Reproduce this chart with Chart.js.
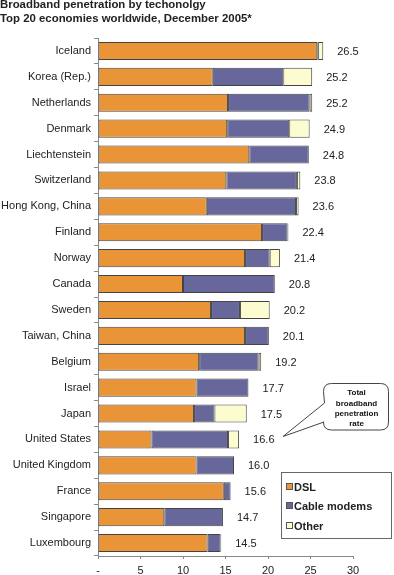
<!DOCTYPE html>
<html>
<head>
<meta charset="utf-8">
<script src="https://cdn.jsdelivr.net/npm/chart.js@4.4.1/dist/chart.umd.min.js"></script>
<style>
  html, body { margin: 0; padding: 0; background: #fff; }
  #wrap { position: relative; width: 394px; height: 575px; }
  .title { position: absolute; left: 0; font: bold 11.4px "Liberation Sans", Arial, sans-serif; color: #222; white-space: nowrap; }
</style>
</head>
<body>
<div id="wrap">
  <div class="title" style="top:-2px">Broadband penetration by techonolgy</div>
  <div class="title" style="top:12px">Top 20 economies worldwide, December 2005*</div>
  <canvas id="c" width="394" height="575"></canvas>
</div>
<script>
const categories = ['Iceland','Korea (Rep.)','Netherlands','Denmark','Liechtenstein','Switzerland','Hong Kong, China','Finland','Norway','Canada','Sweden','Taiwan, China','Belgium','Israel','Japan','United States','United Kingdom','France','Singapore','Luxembourg'];
const dsl    = [25.8,13.5,15.3,15.2,17.8,15.1,12.8,19.3,17.3,10.0,13.3,17.3,11.9,11.6,11.3,6.3,11.6,14.8,7.8,12.9];
const cable  = [0.1,8.3,9.6,7.3,7.0,8.3,10.5,3.0,2.9,10.8,3.4,2.8,7.0,6.1,2.4,9.0,4.4,0.8,6.9,1.5];
const other  = [0.6,3.4,0.3,2.4,0,0.4,0.3,0.1,1.2,0,3.5,0,0.3,0,3.8,1.3,0,0,0,0.1];
const totals = [26.5,25.2,25.2,24.9,24.8,23.8,23.6,22.4,21.4,20.8,20.2,20.1,19.2,17.7,17.5,16.6,16.0,15.6,14.7,14.5];
const xTicks = [0,5,10,15,20,25,30];
const seriesNames = ['DSL','Cable modems','Other'];
const seriesColors = ['#EA9438','#67679C','#FCFCD0'];
const calloutLines = ['Total','broadband','penetration','rate'];

const FONT = '"Liberation Sans", Arial, sans-serif';

const extras = {
  id: 'extras',
  afterDatasetsDraw(chart) {
    const ctx = chart.ctx;
    const xs = chart.scales.x, ys = chart.scales.y;
    ctx.save();
    // value labels
    ctx.font = '11px ' + FONT;
    ctx.fillStyle = '#222';
    ctx.textAlign = 'left';
    ctx.textBaseline = 'middle';
    totals.forEach((t, i) => {
      ctx.fillText(t.toFixed(1), xs.getPixelForValue(t) + 14, ys.getPixelForValue(i) + 1);
    });
    // legend box
    ctx.strokeStyle = '#666';
    ctx.lineWidth = 1;
    ctx.fillStyle = '#fff';
    ctx.fillRect(281.5, 472.5, 110, 66);
    ctx.strokeRect(281.5, 472.5, 110, 66);
    const ly = [487, 506, 526];
    ctx.font = 'bold 11px ' + FONT;
    seriesNames.forEach((n, k) => {
      ctx.fillStyle = seriesColors[k];
      ctx.fillRect(287, ly[k] - 3, 6, 6);
      ctx.strokeStyle = '#555';
      ctx.strokeRect(286.5, ly[k] - 3.5, 6, 6);
      ctx.fillStyle = '#222';
      ctx.fillText(n, 294, ly[k] + 0.5);
    });
    // callout bubble
    const bx = 323.5, by = 383.5, bw = 65, bh = 46.5, r = 8;
    ctx.beginPath();
    ctx.moveTo(bx + r, by);
    ctx.lineTo(bx + bw - r, by);
    ctx.quadraticCurveTo(bx + bw, by, bx + bw, by + r);
    ctx.lineTo(bx + bw, by + bh - r);
    ctx.quadraticCurveTo(bx + bw, by + bh, bx + bw - r, by + bh);
    ctx.lineTo(bx + r, by + bh);
    ctx.quadraticCurveTo(bx, by + bh, bx, by + bh - r);
    ctx.lineTo(bx + 0.5, 422);
    ctx.lineTo(283, 436.5);
    ctx.lineTo(bx + 1, 403);
    ctx.lineTo(bx, by + r);
    ctx.quadraticCurveTo(bx, by, bx + r, by);
    ctx.closePath();
    ctx.fillStyle = '#fff';
    ctx.fill();
    ctx.strokeStyle = '#444';
    ctx.stroke();
    ctx.fillStyle = '#111';
    ctx.font = 'bold 8px ' + FONT;
    ctx.textAlign = 'center';
    const cy = [392.5, 403.5, 413.5, 424];
    calloutLines.forEach((s, k) => ctx.fillText(s, 356.5, cy[k]));
    ctx.restore();
  }
};

new Chart(document.getElementById('c'), {
  type: 'bar',
  data: {
    labels: categories,
    datasets: [dsl, cable, other].map((d, k) => ({
      label: seriesNames[k],
      data: d,
      backgroundColor: seriesColors[k],
      borderColor: '#444',
      borderWidth: 1,
      borderSkipped: false,
      barPercentage: 0.7,
      categoryPercentage: 1.0
    }))
  },
  options: {
    indexAxis: 'y',
    responsive: false,
    animation: false,
    layout: { padding: { top: 38, right: 41, left: 0, bottom: 0 } },
    plugins: { legend: { display: false }, tooltip: { enabled: false } },
    scales: {
      x: {
        stacked: true,
        min: 0, max: 30,
        afterBuildTicks(scale) { scale.ticks = xTicks.map(v => ({ value: v })); },
        afterFit(scale) { scale.height = 19; },
        ticks: {
          font: { family: FONT, size: 11 }, color: '#222', padding: 5,
          callback: v => v === 0 ? '-' : String(v)
        },
        grid: { drawOnChartArea: false, tickLength: 3, color: '#888' },
        border: { display: true, color: '#888' }
      },
      y: {
        stacked: true,
        afterFit(scale) { scale.width = 98; },
        ticks: { font: { family: FONT, size: 11 }, color: '#222', padding: 3 },
        grid: { drawOnChartArea: false, tickLength: 4, offset: true, color: '#888' },
        border: { display: true, color: '#888' }
      }
    }
  },
  plugins: [extras]
});
</script>
</body>
</html>
